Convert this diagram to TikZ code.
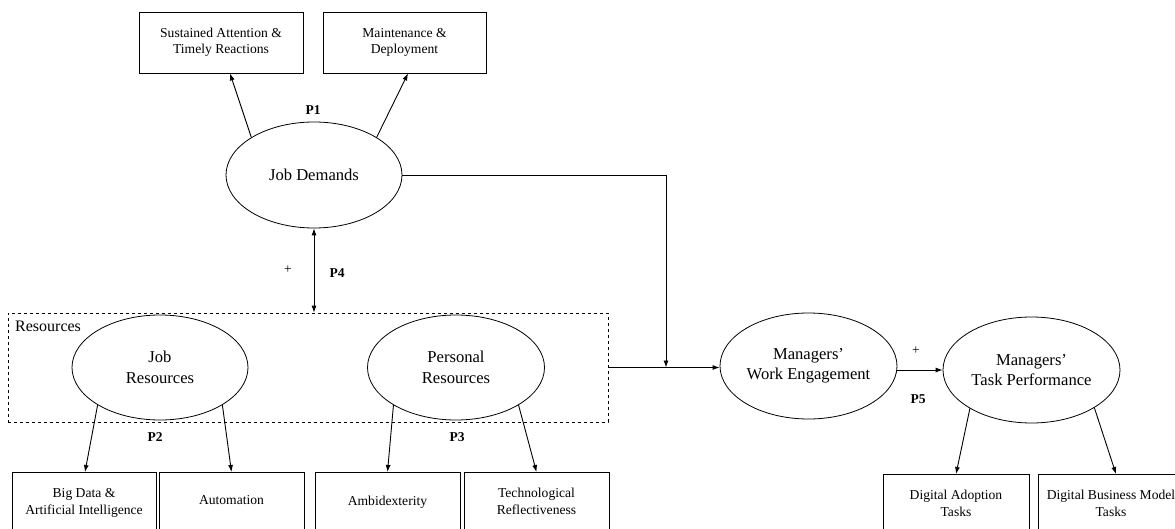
\documentclass[tikz,border=0pt]{standalone}
\usepackage{fontspec}
\setmainfont{Liberation Serif}
\usetikzlibrary{shapes.geometric,arrows.meta,calc}

\begin{document}
\begin{tikzpicture}[x=1pt,y=-1pt,
  arr/.style={-{Latex[length=7pt,width=5pt]}, line width=0.9pt},
  darr/.style={{Latex[length=7pt,width=5pt]}-{Latex[length=7pt,width=5pt]}, line width=0.9pt},
  line/.style={line width=0.9pt},
  boxfont/.style={font=\fontsize{13.6}{16.5}\selectfont},
  box/.style={draw, line width=0.9pt, rectangle, inner sep=0pt, align=center, boxfont},
  ell/.style={draw, ellipse, line width=0.8pt, inner sep=0pt, minimum width=177pt, minimum height=106pt, align=center, font=\fontsize{16.6}{20.5}\selectfont},
  btxt/.style={align=center, inner sep=0pt, boxfont},
  plab/.style={inner sep=0pt, font=\bfseries\fontsize{13.5}{15}\selectfont},
  plus/.style={inner sep=0pt, font=\fontsize{13.5}{15}\selectfont},
]
\useasboundingbox (0,0) rectangle (1175,529);
\clip (0,0) rectangle (1175,529);

% top boxes
\node[box, minimum width=164pt, minimum height=61pt] (sa) at (221,42.5) {Sustained Attention \&\\Timely Reactions};
\node[box, minimum width=163pt, minimum height=61pt] (md) at (404.5,42.5) {Maintenance \&\\Deployment};

% job demands
\node[ell, minimum width=176pt] (jd) at (314,175) {Job Demands};

% resources group
\node[draw, dashed, line width=0.8pt, minimum width=600pt, minimum height=109pt, inner sep=0pt] (res) at (308,367.5) {};
\node[anchor=west, inner sep=0pt, font=\fontsize{16}{18}\selectfont] (reslab) at (15,326) {Resources};
\node[ell, minimum width=176pt, minimum height=105pt] (jr) at (160,367.5) {Job\\Resources};
\node[ell, minimum height=105pt] (pr) at (456,367.5) {Personal\\Resources};

% outcome ellipses
\node[ell] (we) at (808.5,366) {Managers’\\Work Engagement};
\node[ell] (tp) at (1031.5,370) {Managers’\\Task Performance};

% bottom boxes
\node[box, anchor=north, minimum width=144pt, minimum height=90pt] (b1) at (84,472) {};
\node[box, anchor=north, minimum width=145pt, minimum height=90pt] (b2) at (231.5,472) {};
\node[box, anchor=north, minimum width=145pt, minimum height=90pt] (b3) at (387.5,472) {};
\node[box, anchor=north, minimum width=145pt, minimum height=90pt] (b4) at (536.5,472) {};
\node[box, anchor=north, minimum width=146pt, minimum height=90pt] (b5) at (956,474) {};
\node[box, anchor=north, minimum width=146pt, minimum height=90pt] (b6) at (1111,474) {};

\node[btxt] (t1) at (84,503) {Big Data \&\\Artificial Intelligence};
\node[btxt] (t2) at (231.5,500) {Automation};
\node[btxt] (t3) at (387.5,502) {Ambidexterity};
\node[btxt] (t4) at (536.5,501.5) {Technological\\Reflectiveness};
\node[btxt] (t5) at (956,503.5) {Digital Adoption\\Tasks};
\node[btxt] (t6) at (1111,503.5) {Digital Business Model\\Tasks};

% labels
\node[plab] (p1) at (313,110) {P1};
\node[plab] (p4) at (337,273) {P4};
\node[plus] (pl4) at (288,270) {+};
\node[plab] (p2) at (155,437) {P2};
\node[plab] (p3) at (457,437) {P3};
\node[plus] (pl5) at (916,351) {+};
\node[plab] (p5) at (918,399) {P5};

% connectors
\draw[arr] (jd.149) -- ($(sa.south)+(9,0)$);
\draw[arr] (jd.31) -- ($(md.south)+(3.5,0)$);
\draw[darr] (jd.south) -- (jd.south |- res.north);

\coordinate (jn) at (666,367.5);
\draw[arr] (jd.east) -| (jn);
\draw[arr] (res.east) -- (res.east -| we.west);
\draw[arr] (we.east |- tp.west) -- (tp.west);

\draw[arr] (jr.211) -- ($(b1.north)+(1,0)$);
\draw[arr] (jr.329) -- (b2.north);
\draw[arr] (pr.211) -- (b3.north);
\draw[arr] (pr.329) -- (b4.north);
\draw[arr] (tp.212) -- (b5.north);
\draw[arr] (tp.329) -- ($(b6.north)+(5,0)$);
\end{tikzpicture}
\end{document}
